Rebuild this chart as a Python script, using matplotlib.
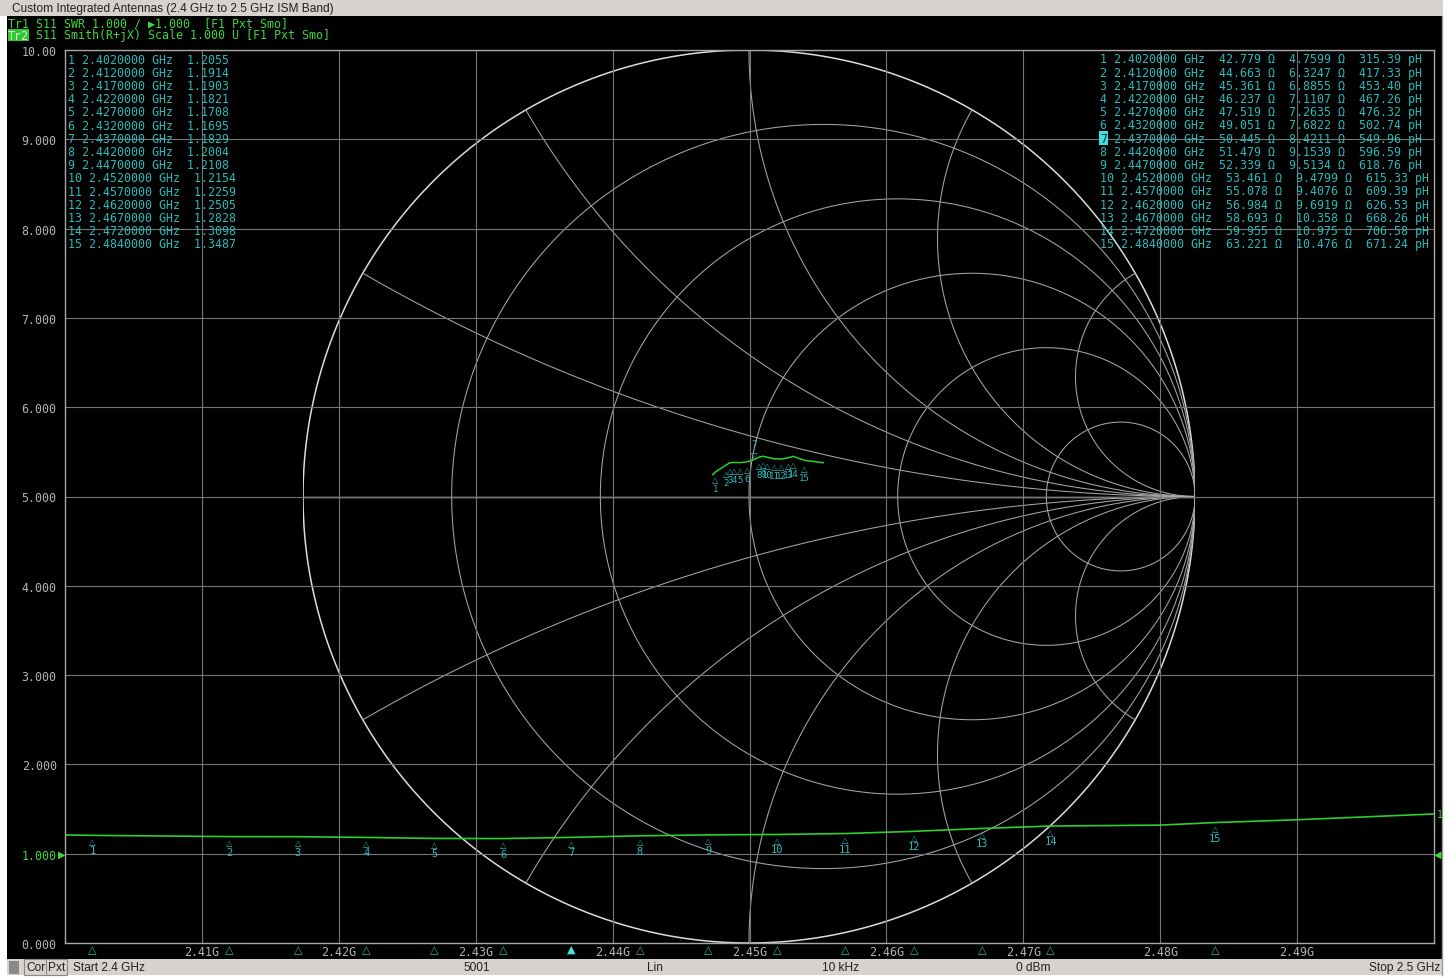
import numpy as np
import matplotlib.pyplot as plt
from matplotlib.patches import Rectangle

W, H = 1456, 979
DPI = 100

plt.rcParams["font.family"] = ["DejaVu Sans Mono", "DejaVu Sans"]

# SWR trace (Tr1)
swr_freq_ghz = [2.400, 2.402, 2.412, 2.417, 2.422, 2.427, 2.432, 2.437, 2.442,
                2.447, 2.452, 2.457, 2.462, 2.467, 2.472, 2.480, 2.484, 2.490, 2.500]
swr_values = [1.21, 1.2055, 1.1914, 1.1903, 1.1821, 1.1708, 1.1695, 1.1829, 1.2004,
              1.2108, 1.2154, 1.2259, 1.2505, 1.2828, 1.3098, 1.32, 1.3487, 1.38, 1.445]

# Smith trace (Tr2), impedance in ohms
smith_freq_ghz = [2.400, 2.402, 2.412, 2.417, 2.422, 2.427, 2.432, 2.437, 2.442,
                  2.447, 2.452, 2.457, 2.462, 2.467, 2.472, 2.484, 2.500]
smith_r_ohm = [42.3, 42.779, 44.663, 45.361, 46.237, 47.519, 49.051, 50.445, 51.479,
               52.339, 53.461, 55.078, 56.984, 58.693, 59.955, 63.221, 69.0]
smith_x_ohm = [4.2, 4.7599, 6.3247, 6.8855, 7.1107, 7.2635, 7.6822, 8.4211, 9.1539,
               9.5134, 9.4799, 9.4076, 9.6919, 10.358, 10.975, 10.476, 10.8]

# marker table
marker_ids = list(range(1, 16))
marker_freq_ghz = [2.402, 2.412, 2.417, 2.422, 2.427, 2.432, 2.437, 2.442, 2.447,
                   2.452, 2.457, 2.462, 2.467, 2.472, 2.484]
marker_swr = [1.2055, 1.1914, 1.1903, 1.1821, 1.1708, 1.1695, 1.1829, 1.2004, 1.2108,
              1.2154, 1.2259, 1.2505, 1.2828, 1.3098, 1.3487]
marker_r_ohm = [42.779, 44.663, 45.361, 46.237, 47.519, 49.051, 50.445, 51.479, 52.339,
                53.461, 55.078, 56.984, 58.693, 59.955, 63.221]
marker_x_ohm = [4.7599, 6.3247, 6.8855, 7.1107, 7.2635, 7.6822, 8.4211, 9.1539, 9.5134,
                9.4799, 9.4076, 9.6919, 10.358, 10.975, 10.476]
marker_l_ph = [315.39, 417.33, 453.40, 467.26, 476.32, 502.74, 549.96, 596.59, 618.76,
               615.33, 609.39, 626.53, 668.26, 706.58, 671.24]
active_marker = 7

# Smith grid values
smith_r_grid = [0.0, 0.2, 0.5, 1.0, 2.0, 5.0]
smith_x_grid = [0.268, 0.577, 1.0, 1.732, 3.732]

x_ticks_ghz = [2.41, 2.42, 2.43, 2.44, 2.45, 2.46, 2.47, 2.48, 2.49]
y_ticks = list(range(0, 11))

BG = "#000000"
GRID = "#767676"
SMITH_LINE = "#a6a6a6"
TRACE_GREEN = "#2ccf2c"
HEAD_GREEN = "#3ed63e"
CYAN = "#2bbaba"
LABEL_GRAY = "#b4b4b4"
CHROME = "#d6d3ce"
MONO = 8.35
CHAR_W = 0.602 * MONO * DPI / 72


def px_box(x0, y0, x1, y1):
    return [x0 / W, 1 - y1 / H, (x1 - x0) / W, (y1 - y0) / H]


def pixel_axes(zorder):
    a = fig.add_axes([0, 0, 1, 1], zorder=zorder)
    a.set_xlim(0, W)
    a.set_ylim(H, 0)
    a.axis("off")
    a.patch.set_alpha(0)
    return a


def to_gamma(r, x):
    z = (np.asarray(r) + 1j * np.asarray(x)) / 50.0
    return (z - 1) / (z + 1)


fig = plt.figure(figsize=(W / DPI, H / DPI), dpi=DPI, facecolor="white")

# window chrome
bg = pixel_axes(0)
bg.add_patch(Rectangle((0, 0), 1443, 17, color=CHROME, lw=0))
bg.add_patch(Rectangle((7, 17), 1435, 943, color=BG, lw=0))
bg.add_patch(Rectangle((7, 960), 1435, 16, color=CHROME, lw=0))
bg.add_patch(Rectangle((9, 962), 10, 13, color="#8a8a8a", lw=0))
bg.plot([1442, 1442], [17, 976], color="#9a9a9a", lw=1)

# Smith chart
sm = fig.add_axes(px_box(303, 51, 1195, 944), zorder=1)
sm.set_xlim(-1, 1)
sm.set_ylim(-1, 1)
sm.axis("off")
sm.patch.set_alpha(0)

theta = np.linspace(0, 2 * np.pi, 600)
for r in smith_r_grid:
    c, rad = r / (1 + r), 1 / (1 + r)
    outer = r == 0
    sm.plot(c + rad * np.cos(theta), rad * np.sin(theta),
            color="#dcdcdc" if outer else SMITH_LINE, lw=1.1 if outer else 0.75)
r_sweep = np.concatenate([[0.0], np.logspace(-3, 4, 800)])
for xv in smith_x_grid:
    for sign in (1, -1):
        g = to_gamma(r_sweep * 50, sign * xv * 50)
        sm.plot(g.real, g.imag, color=SMITH_LINE, lw=0.75)
sm.plot([-1, 1], [0, 0], color="#dcdcdc", lw=1.0)

g_trace = to_gamma(smith_r_ohm, smith_x_ohm)
sm.plot(g_trace.real, g_trace.imag, color=TRACE_GREEN, lw=1.1, zorder=5)
g_mk = to_gamma(marker_r_ohm, marker_x_ohm)
for i, g in zip(marker_ids, g_mk):
    if i == active_marker:
        sm.annotate("▽", (g.real, g.imag), xytext=(0, 5), textcoords="offset pixels",
                    ha="center", va="center", color=CYAN, fontsize=6, family="DejaVu Sans")
        sm.annotate(str(i), (g.real, g.imag), xytext=(0, 15), textcoords="offset pixels",
                    ha="center", va="center", color=CYAN, fontsize=7)
    else:
        sm.annotate("△", (g.real, g.imag), xytext=(0, -8), textcoords="offset pixels",
                    ha="center", va="center", color=CYAN, fontsize=6, family="DejaVu Sans")
        sm.annotate(str(i), (g.real, g.imag), xytext=(0, -17), textcoords="offset pixels",
                    ha="center", va="center", color=CYAN, fontsize=6.5)

# SWR plot
ax = fig.add_axes(px_box(65, 51, 1434, 944), zorder=2)
ax.patch.set_alpha(0)
ax.set_xlim(2.40, 2.50)
ax.set_ylim(0, 10)
ax.set_axisbelow(True)
ax.set_xticks(x_ticks_ghz)
ax.set_xticklabels([f"{t:.2f}G" for t in x_ticks_ghz])
ax.set_yticks(y_ticks)
ax.set_yticklabels([f"{v:.3f}" if v < 10 else f"{v:.2f}" for v in y_ticks])
ax.tick_params(length=0, colors=LABEL_GRAY, labelsize=MONO)
ax.tick_params(axis="y", pad=6)
ax.tick_params(axis="x", pad=1.5)
ax.grid(True, color=GRID, lw=0.8)
for s in ax.spines.values():
    s.set_color("#a8a8a8")
    s.set_linewidth(1.0)
for lbl in ax.get_yticklabels():
    if lbl.get_text() == "1.000":
        lbl.set_color(HEAD_GREEN)

ax.plot(swr_freq_ghz, swr_values, color=TRACE_GREEN, lw=1.2)

for i, f, s in zip(marker_ids, marker_freq_ghz, marker_swr):
    ax.annotate("△", (f, s), xytext=(0, -6), textcoords="offset pixels",
                ha="center", va="center", color=CYAN, fontsize=6, family="DejaVu Sans")
    ax.annotate(str(i), (f, s), xytext=(0, -15), textcoords="offset pixels",
                ha="center", va="center", color=CYAN, fontsize=7.5)
    ax.annotate("▲" if i == active_marker else "△", (f, 0), xytext=(0, -6),
                textcoords="offset pixels", ha="center", va="center",
                color="#45e0e0" if i == active_marker else CYAN,
                fontsize=8, family="DejaVu Sans", annotation_clip=False)

# reference level arrows and trace end label
ax.annotate("▶", (0, 1.0), xycoords=ax.get_yaxis_transform(), xytext=(-3, 0),
            textcoords="offset pixels", ha="center", va="center", color=HEAD_GREEN,
            fontsize=7, family="DejaVu Sans", annotation_clip=False)
ax.annotate("◀", (1, 1.0), xycoords=ax.get_yaxis_transform(), xytext=(4, 0),
            textcoords="offset pixels", ha="center", va="center", color=HEAD_GREEN,
            fontsize=7, family="DejaVu Sans", annotation_clip=False)
ax.annotate("1", (swr_freq_ghz[-1], swr_values[-1]), xytext=(3, 0),
            textcoords="offset pixels", ha="left", va="center", color=HEAD_GREEN,
            fontsize=7, annotation_clip=False)

# overlay text: headers, marker tables, status bar
fg = pixel_axes(10)
fg.text(12, 9, "Custom Integrated Antennas (2.4 GHz to 2.5 GHz ISM Band)",
        family="Liberation Sans", fontsize=8.6, color="#202020", va="center")
fg.text(8, 24, "Tr1 S11 SWR 1.000 / ▶1.000  [F1 Pxt Smo]", fontsize=MONO,
        color=HEAD_GREEN, va="center")
fg.add_patch(Rectangle((8, 30), 3 * CHAR_W, 12, color="#2fc82f", lw=0))
fg.text(8, 36, "Tr2", fontsize=MONO, color="#d8ffd8", va="center")
fg.text(8 + 3 * CHAR_W, 36, " S11 Smith(R+jX) Scale 1.000 U [F1 Pxt Smo]",
        fontsize=MONO, color=HEAD_GREEN, va="center")

row_h = 13.2
for k, (i, f, s) in enumerate(zip(marker_ids, marker_freq_ghz, marker_swr)):
    fg.text(68, 60 + k * row_h, f"{i} {f:.7f} GHz  {s:.4f}",
            fontsize=MONO, color=CYAN, va="center")

for k, (i, f, r, x, l) in enumerate(zip(marker_ids, marker_freq_ghz, marker_r_ohm,
                                         marker_x_ohm, marker_l_ph)):
    y = 60 + k * row_h
    tag = str(i)
    body = f" {f:.7f} GHz  {r:.3f} Ω  {x:.5g} Ω  {l:.2f} pH"
    if i == active_marker:
        # active marker number shown inverted
        fg.text(1100, y, tag, fontsize=MONO, color="#003030", va="center",
                bbox=dict(boxstyle="square,pad=0.05", fc="#3fe0e0", ec="none"))
        fg.text(1100 + len(tag) * CHAR_W, y, body, fontsize=MONO, color=CYAN, va="center")
    else:
        fg.text(1100, y, tag + body, fontsize=MONO, color=CYAN, va="center")

status_y = 968
fg.text(26, status_y, "Cor", family="Liberation Sans", fontsize=8.6, color="#202020",
        va="center", bbox=dict(boxstyle="square,pad=0.15", fc=CHROME, ec="#8a8a8a", lw=0.8))
fg.text(48, status_y, "Pxt", family="Liberation Sans", fontsize=8.6, color="#202020",
        va="center", bbox=dict(boxstyle="square,pad=0.15", fc=CHROME, ec="#8a8a8a", lw=0.8))
fg.text(73, status_y, "Start 2.4 GHz", family="Liberation Sans", fontsize=8.6,
        color="#202020", va="center")
fg.text(490, status_y, "5001", family="Liberation Sans", fontsize=8.6, color="#202020",
        va="center", ha="right")
fg.text(655, status_y, "Lin", family="Liberation Sans", fontsize=8.6, color="#202020",
        va="center", ha="center")
fg.text(841, status_y, "10 kHz", family="Liberation Sans", fontsize=8.6, color="#202020",
        va="center", ha="center")
fg.text(1033, status_y, "0 dBm", family="Liberation Sans", fontsize=8.6, color="#202020",
        va="center", ha="center")
fg.text(1440, status_y, "Stop 2.5 GHz", family="Liberation Sans", fontsize=8.6,
        color="#202020", va="center", ha="right")

fig.savefig("out.png", dpi=DPI, facecolor=fig.get_facecolor())
